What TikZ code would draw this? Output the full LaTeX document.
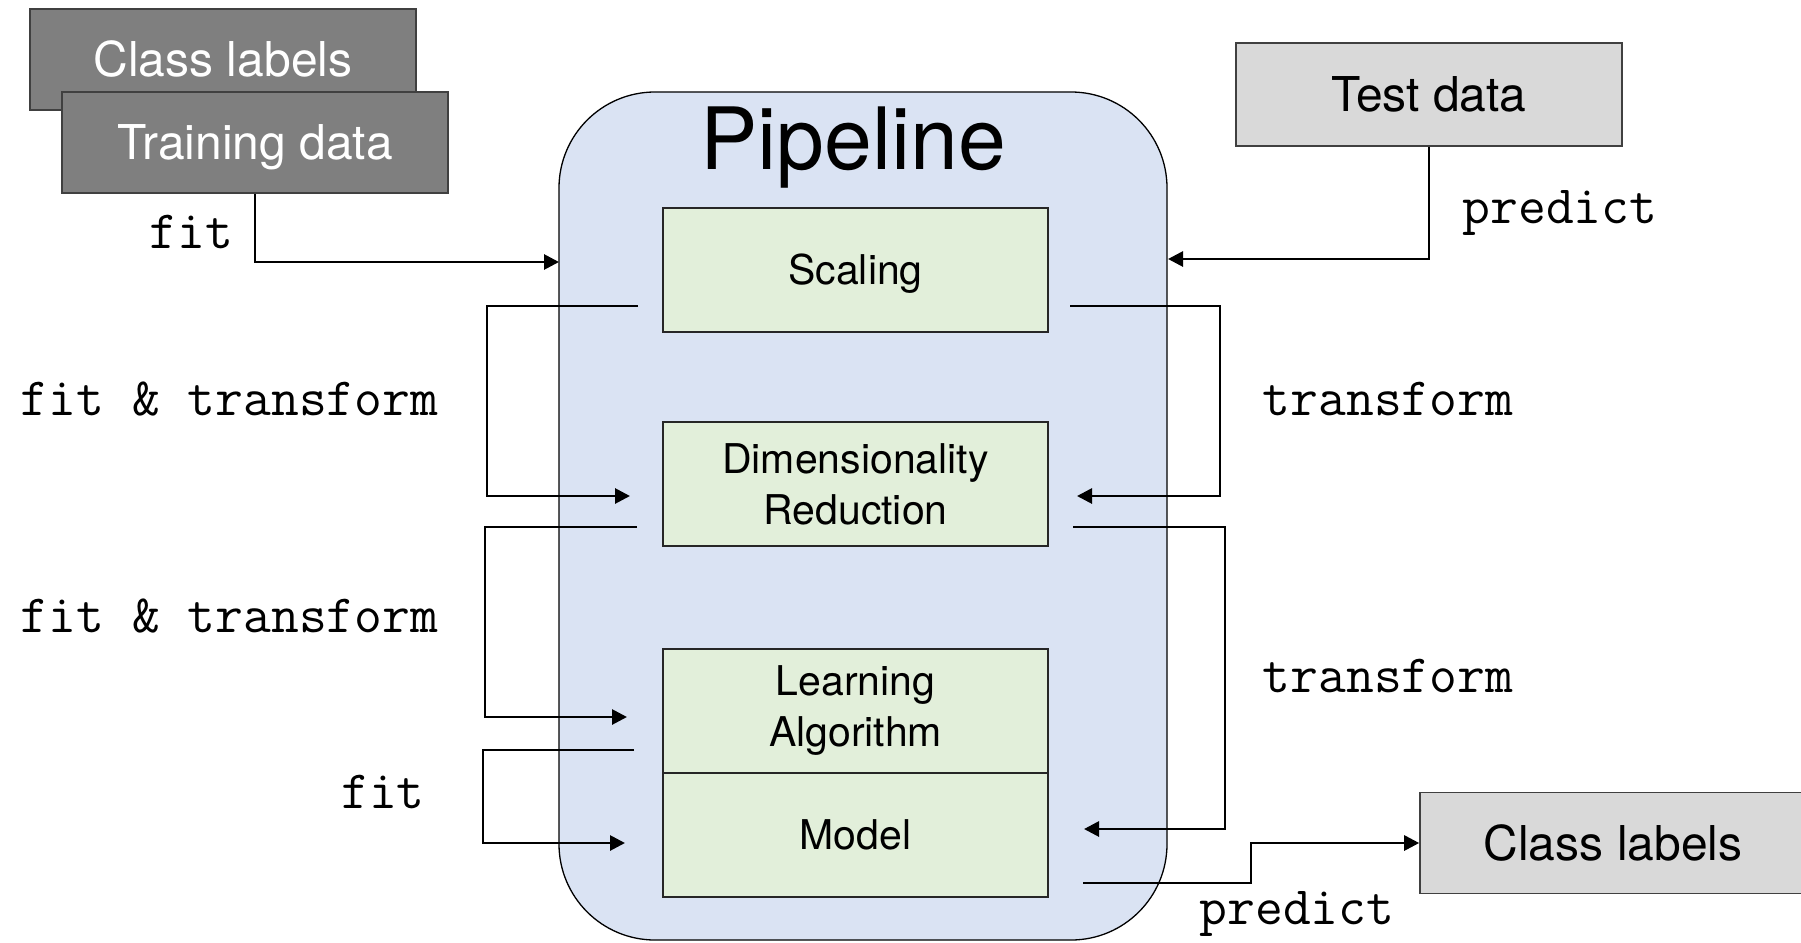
\documentclass[tikz,border=0pt]{standalone}
\usepackage{fontspec}
\setsansfont{TeX Gyre Heros}
\usetikzlibrary{arrows.meta}

\definecolor{pipefill}{RGB}{218,227,243}
\definecolor{stepfill}{RGB}{226,239,218}
\definecolor{darkbox}{RGB}{127,127,127}
\definecolor{lightbox}{RGB}{217,217,217}
\definecolor{boxline}{RGB}{64,64,64}

\newcommand\dataFont{\sffamily\fontsize{48bp}{58bp}\selectfont}
\newcommand\stageFont{\sffamily\fontsize{41bp}{51bp}\selectfont}
\newcommand\titleFont{\sffamily\fontsize{86bp}{100bp}\selectfont}
\newcommand\callFont{\ttfamily\fontsize{54bp}{60bp}\selectfont}

\begin{document}
\begin{tikzpicture}[x=1bp,y=-1bp,
  databox/.style={draw=boxline, line width=1.6bp, minimum width=386bp,
    minimum height=101bp, inner sep=0pt, font=\dataFont,
    text height=34.5bp, text depth=0pt},
  darkdata/.style={databox, fill=darkbox, text=white},
  lightdata/.style={databox, fill=lightbox, text=black},
  stagebox/.style={draw=black!85, line width=1.6bp, fill=stepfill,
    minimum width=385bp, minimum height=124bp, inner sep=0pt,
    font=\stageFont, align=center},
  oneline/.style={text height=29.5bp, text depth=0pt},
  conn/.style={line width=2.8bp, -{Triangle[length=15bp,width=15bp]}},
  call/.style={font=\callFont, anchor=base, inner sep=0pt}
]
\useasboundingbox (0,0) rectangle (1801,942);

% pipeline container
\node[draw, fill=pipefill, line width=1.3bp, rounded corners=96bp,
      minimum width=608bp, minimum height=848bp] (pipe) at (863,516) {};
\node[font=\titleFont, anchor=base, inner sep=0pt] (title) at (853,169) {Pipeline};

% pipeline stages
\node[stagebox, oneline] (scal) at (855.5,270) {Scaling};
\node[stagebox] (dim) at (855.5,484) {Dimensionality\\Reduction};
\node[stagebox] (learn) at (855.5,711) {Learning\\Algorithm};
\node[stagebox, oneline] (model) at (855.5,835) {Model};

% data boxes
\node[darkdata] (cls1) at (223,59.5) {Class labels};
\node[darkdata] (train) at (255,142.5) {Training data};
\node[lightdata, minimum height=103bp] (test) at (1429,94.5) {Test data};
\node[lightdata] (cls2) at (1613,843) {Class labels};

% method labels
\node[call] (fit1) at (191.5,248) {fit};
\node[call] (ft1) at (229.5,415) {fit \& transform};
\node[call] (ft2) at (229.5,632) {fit \& transform};
\node[call] (fit2) at (383,808) {fit};
\node[call] (tr1) at (1388,415) {transform};
\node[call] (tr2) at (1388,692) {transform};
\node[call] (pr1) at (1560,223) {predict};
\node[call] (pr2) at (1297,924) {predict};

% loose ends of the connectors
\coordinate (fitin) at (559,262);
\coordinate (predin) at (1168,259);
\coordinate (a1s) at (638,306);  \coordinate (a1e) at (630,496);
\coordinate (a2s) at (637,527);  \coordinate (a2e) at (627,717);
\coordinate (a3s) at (634,750);  \coordinate (a3e) at (625,843);
\coordinate (b1s) at (1070,306); \coordinate (b1e) at (1077,496);
\coordinate (b2s) at (1073,527); \coordinate (b2e) at (1084,829);
\coordinate (cs)  at (1083,883);

% training path
\draw[conn] (train.south) |- (fitin);
\draw[conn] (a1s) -- ++(-151,0) |- (a1e);
\draw[conn] (a2s) -- ++(-152,0) |- (a2e);
\draw[conn] (a3s) -- ++(-151,0) |- (a3e);

% prediction path
\draw[conn] (test.south) |- (predin);
\draw[conn] (b1s) -- ++(150,0) |- (b1e);
\draw[conn] (b2s) -- ++(152,0) |- (b2e);
\draw[conn] (cs) -- ++(168,0) |- (cls2.west);
\end{tikzpicture}
\end{document}
